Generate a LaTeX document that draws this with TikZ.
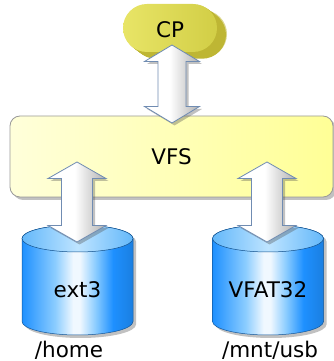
\documentclass[tikz,border=0pt]{standalone}
\usepackage{fontspec}
\setmainfont{DejaVu Sans}
\usetikzlibrary{calc,shadows}

\definecolor{cpface}{RGB}{228,224,76}
\definecolor{cpside}{RGB}{190,182,52}
\definecolor{boxleft}{RGB}{255,255,218}
\definecolor{boxright}{RGB}{255,255,150}
\definecolor{arrowedge}{RGB}{112,140,178}
\definecolor{arrowgrey}{RGB}{176,176,176}
\definecolor{drumA}{RGB}{30,144,255}
\definecolor{drumB}{RGB}{140,205,255}
\definecolor{drumC}{RGB}{240,248,255}
\definecolor{drumtopA}{RGB}{100,184,250}
\definecolor{drumtopB}{RGB}{190,228,255}

% side of a drum: blue with a light streak near the middle
\pgfdeclarehorizontalshading{drumside}{100bp}{color(0bp)=(drumA); color(25bp)=(drumA);
  color(40bp)=(drumB); color(48bp)=(drumC); color(51bp)=(drumC); color(58bp)=(drumB);
  color(66bp)=(drumA); color(75bp)=(drumA!88!black); color(100bp)=(drumA!88!black)}
\pgfdeclarehorizontalshading{drumlid}{100bp}{color(0bp)=(drumtopA); color(25bp)=(drumtopA);
  color(50bp)=(drumtopB); color(75bp)=(drumtopA); color(100bp)=(drumtopA)}
% arrows: white on the left, grey towards the right
\pgfdeclarehorizontalshading{arrowbody}{100bp}{color(0bp)=(white); color(25bp)=(white);
  color(48bp)=(white); color(75bp)=(arrowgrey); color(100bp)=(arrowgrey)}

\tikzset{
  every node/.style={font=\fontsize{21.5}{24}\selectfont},
  softshadow/.style={drop shadow={shadow xshift=3pt, shadow yshift=-3pt, opacity=.35, fill=black!70}},
  fatarrow/.style={shading=arrowbody, draw=arrowedge, line width=.8pt,
    line join=miter, drop shadow={shadow xshift=2.5pt, shadow yshift=-2.5pt, opacity=.35, fill=black!70}},
  vfsbox/.style={rectangle, rounded corners=10pt, minimum width=323pt, minimum height=81pt,
    inner sep=0pt, draw=black!40, line width=.8pt, left color=boxleft, right color=boxright, softshadow},
  drumbody/.style={shading=drumside, draw=drumA!60!black, line width=.5pt, softshadow},
  drumtop/.style={shading=drumlid, draw=drumA!55!black, line width=.5pt},
}

% fat double arrow from the lower tip #1 up to the upper tip #2,
% #3 = half width of the heads, #4 = half width of the shaft
\newcommand\fatarrow[4]{%
  \path[fatarrow] let \p1=(#1), \p2=(#2) in
    (\x1,\y1) -- ({\x1+#3pt},{\y1+16.5pt}) -- ({\x1+#4pt},{\y1+16.5pt})
    -- ({\x1+#4pt},{\y2-16.5pt}) -- ({\x1+#3pt},{\y2-16.5pt}) -- (\x1,\y2)
    -- ({\x1-#3pt},{\y2-16.5pt}) -- ({\x1-#4pt},{\y2-16.5pt})
    -- ({\x1-#4pt},{\y1+16.5pt}) -- ({\x1-#3pt},{\y1+16.5pt}) -- cycle;}

\begin{document}
\begin{tikzpicture}[x=1pt, y=1pt]
    \useasboundingbox (0,0) rectangle (334,361);

    % CP: a yellow pill pushed out towards the lower right
    \fill[cpside!55!white, rounded corners=24pt] (133,303) rectangle ++(94,48);
    \foreach \d in {9,...,1}
        \fill[cpside, rounded corners=24pt] (123+\d,309-0.75*\d) rectangle ++(94,48);
    \path[left color=cpface!85!white, right color=cpface!92!black, rounded corners=24pt]
        (123,309) rectangle ++(94,48);
    \node (cp) at (170,331) {CP};

    % the VFS layer
    \node[vfsbox] (vfs) at (171.5,204.5) {VFS};

    % CP <-> VFS
    \coordinate (vfs-top) at (172,238);
    \coordinate (cp-tip) at (172,316);
    \fatarrow{vfs-top}{cp-tip}{27.5}{14}

    % the two drums
    \foreach \cx in {77.5,268} {
        \begin{scope}[shift={(\cx,0)}]
            \path[drumbody] (-55.5,122.5) -- (-55.5,39.5)
                arc[start angle=180, end angle=360, x radius=55.5, y radius=13.5]
                -- (55.5,122.5)
                arc[start angle=0, end angle=180, x radius=55.5, y radius=13.5] -- cycle;
            \path[drumtop] (0,122.5) ellipse[x radius=55.5, y radius=13.5];
        \end{scope}
    }
    \node (ext) at (77.5,71) {ext3};
    \node (vfat) at (268,71) {VFAT32};

    % VFS <-> drums
    \coordinate (ext-top) at (77,119);
    \coordinate (vfs-left) at (77,199);
    \coordinate (vfat-top) at (267,119);
    \coordinate (vfs-right) at (267,199);
    \fatarrow{ext-top}{vfs-left}{29}{15.5}
    \fatarrow{vfat-top}{vfs-right}{29}{15.5}

    % mount points
    \node[anchor=base] (home) at (69,4) {/home};
    \node[anchor=base] (usb) at (270,4) {/mnt/usb};
\end{tikzpicture}
\end{document}
